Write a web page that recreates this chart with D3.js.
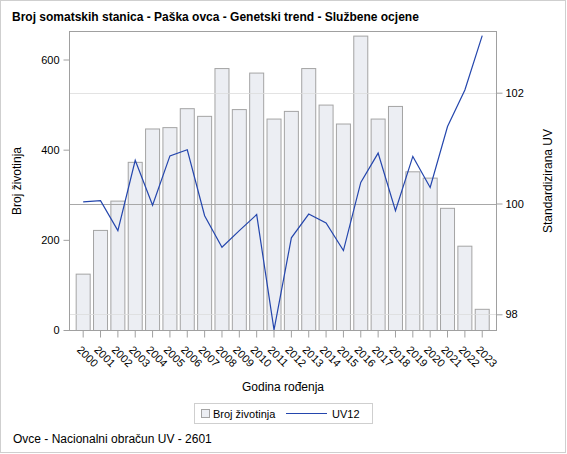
<!DOCTYPE html>
<html>
<head>
<meta charset="utf-8">
<script src="https://cdn.jsdelivr.net/npm/d3@7"></script>
<style>
  body { margin: 0; background: #fff; }
  svg text { font-family: "Liberation Sans", Arial, sans-serif; fill: #000; }
</style>
</head>
<body>
<svg id="chart" width="567" height="454" viewBox="0 0 567 454"></svg>
<script>
// data
const years = ["2000","2001","2002","2003","2004","2005","2006","2007","2008","2009","2010","2011",
               "2012","2013","2014","2015","2016","2017","2018","2019","2020","2021","2022","2023"];
const brojZivotinja = [125, 222, 287, 373, 447, 450, 492, 475, 581, 490, 571, 469,
                       486, 581, 500, 458, 653, 469, 497, 352, 338, 271, 187, 47];
const uv12 = [100.03, 100.05, 99.51, 100.78, 99.97, 100.86, 100.97, 99.78, 99.21, 99.51, 99.80, 97.72,
              99.38, 99.81, 99.65, 99.15, 100.38, 100.91, 99.87, 100.85, 100.29, 101.39, 102.05, 103.03];
const leftTicks = [0, 200, 400, 600];
const rightTicks = [98, 100, 102];

const titleText = "Broj somatskih stanica - Paška ovca - Genetski trend - Službene ocjene";
const footText = "Ovce - Nacionalni obračun UV - 2601";

function drawChart() {
    const svg = d3.select("#chart");
    const plot = {left: 69.5, right: 496.5, top: 31.5, bottom: 330.5};

    // outer border of the graph
    svg.append("rect")
        .attr("x", 0.5).attr("y", 0.5)
        .attr("width", 565).attr("height", 452)
        .style("fill", "none")
        .style("stroke", "#cfcfcf");

    // scales
    const x = d3.scaleBand()
        .domain(years)
        .range([74.5, 490.9])
        .paddingInner(0.135)
        .paddingOuter(0.0675);
    const yLeft = d3.scaleLinear().domain([0, 600]).range([330, 59.5]);
    const yRight = d3.scaleLinear().domain([98, 102]).range([314.3, 92.7]);

    // bars
    svg.append("g").selectAll("rect")
        .data(years)
        .join("rect")
        .attr("x", d => x(d) + 0.5)
        .attr("y", (d, i) => yLeft(brojZivotinja[i]) + 0.5)
        .attr("width", x.bandwidth() - 1)
        .attr("height", (d, i) => yLeft(0) - yLeft(brojZivotinja[i]))
        .style("fill", "#eceef3")
        .style("stroke", "#a4a4a4")
        .style("stroke-width", 1);

    // grid lines from the right axis, the 100 line is darker
    svg.append("g").selectAll("line")
        .data(rightTicks)
        .join("line")
        .attr("x1", plot.left).attr("x2", plot.right)
        .attr("y1", d => Math.round(yRight(d)) + 0.5)
        .attr("y2", d => Math.round(yRight(d)) + 0.5)
        .style("stroke", d => d === 100 ? "#a8a8a8" : "#dcdcdc")
        .style("stroke-opacity", d => d === 100 ? 1 : 0.8);

    // trend line
    const line = d3.line()
        .x((d, i) => x(years[i]) + x.bandwidth() / 2)
        .y(d => yRight(d));
    svg.append("path")
        .datum(uv12)
        .attr("d", line)
        .style("fill", "none")
        .style("stroke", "#2446ad")
        .style("stroke-width", 1.2);

    // plot frame
    svg.append("rect")
        .attr("x", plot.left).attr("y", plot.top)
        .attr("width", plot.right - plot.left)
        .attr("height", plot.bottom - plot.top)
        .style("fill", "none")
        .style("stroke", "#a0a0a0");

    // left axis
    const leftAxis = svg.append("g")
        .attr("transform", "translate(" + plot.left + ",0)")
        .call(d3.axisLeft(yLeft).tickValues(leftTicks).tickFormat(d3.format("d")).tickSize(6).tickPadding(4));
    // right axis
    const rightAxis = svg.append("g")
        .attr("transform", "translate(" + plot.right + ",0)")
        .call(d3.axisRight(yRight).tickValues(rightTicks).tickFormat(d3.format("d")).tickSize(6).tickPadding(3));
    // bottom axis
    const bottomAxis = svg.append("g")
        .attr("transform", "translate(0," + plot.bottom + ")")
        .call(d3.axisBottom(x).tickSize(7).tickSizeOuter(0));

    [leftAxis, rightAxis, bottomAxis].forEach(a => {
        a.select(".domain").remove();
        a.selectAll(".tick line").style("stroke", "#a0a0a0");
        a.selectAll("text").style("font-size", "11px").style("font-family", "Liberation Sans, Arial, sans-serif");
    });

    // rotated year labels
    bottomAxis.selectAll(".tick text")
        .attr("text-anchor", "start")
        .attr("dy", null)
        .attr("y", null)
        .attr("transform", "translate(-7,20) rotate(45)");

    // titles
    svg.append("text")
        .attr("x", 12).attr("y", 20.5)
        .style("font-size", "12px")
        .style("font-weight", "bold")
        .text(titleText);

    svg.append("text")
        .attr("x", (plot.left + plot.right) / 2).attr("y", 391)
        .attr("text-anchor", "middle")
        .style("font-size", "12px")
        .text("Godina rođenja");

    svg.append("text")
        .attr("transform", "translate(21," + (plot.top + plot.bottom) / 2 + ") rotate(-90)")
        .attr("text-anchor", "middle")
        .style("font-size", "12px")
        .text("Broj životinja");

    svg.append("text")
        .attr("transform", "translate(551.5," + (plot.top + plot.bottom) / 2 + ") rotate(-90)")
        .attr("text-anchor", "middle")
        .style("font-size", "12px")
        .text("Standardizirana UV");

    // legend
    const legend = svg.append("g");
    legend.append("rect")
        .attr("x", 194.5).attr("y", 403.5)
        .attr("width", 178).attr("height", 20)
        .style("fill", "#fff")
        .style("stroke", "#cfcfcf");
    legend.append("rect")
        .attr("x", 201.5).attr("y", 409.5)
        .attr("width", 8).attr("height", 8)
        .style("fill", "#eceef3")
        .style("stroke", "#a4a4a4");
    legend.append("text")
        .attr("x", 213).attr("y", 417.5)
        .style("font-size", "11px")
        .text("Broj životinja");
    legend.append("line")
        .attr("x1", 286).attr("x2", 327)
        .attr("y1", 413.5).attr("y2", 413.5)
        .style("stroke", "#2446ad")
        .style("stroke-width", 1.2);
    legend.append("text")
        .attr("x", 332).attr("y", 417.5)
        .style("font-size", "11px")
        .text("UV12");

    // footnote
    svg.append("text")
        .attr("x", 13).attr("y", 443)
        .style("font-size", "12px")
        .text(footText);
}

drawChart();
</script>
</body>
</html>
